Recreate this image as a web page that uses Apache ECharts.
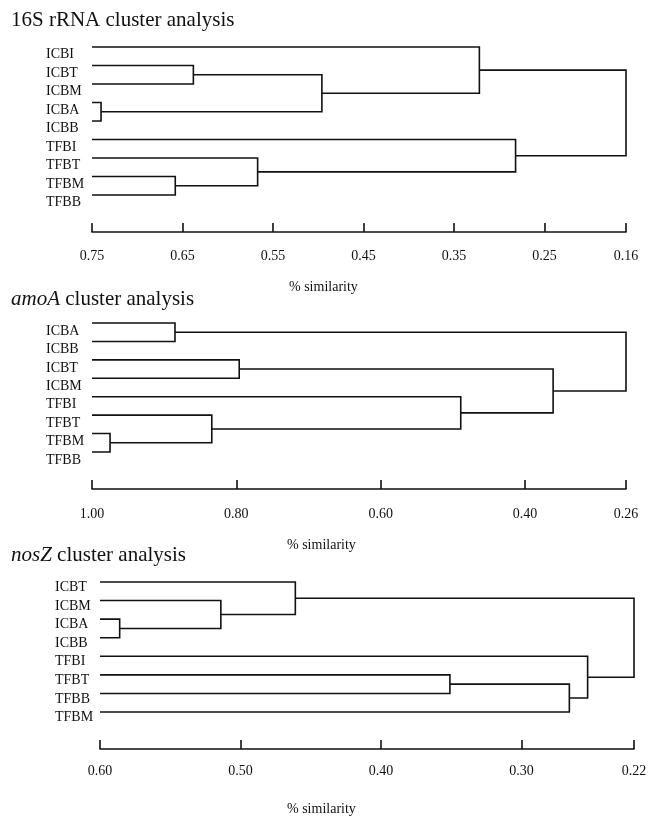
<!DOCTYPE html>
<html>
<head>
<meta charset="utf-8">
<script src="https://cdn.jsdelivr.net/npm/echarts@6/dist/echarts.min.js"></script>
<style>
    html, body { margin: 0; padding: 0; background: #fff; }
    #chart { width: 655px; height: 817px; }
</style>
</head>
<body>
<div id="chart"></div>
<script>
// 16S rRNA
var leaves16S = ['ICBI', 'ICBT', 'ICBM', 'ICBA', 'ICBB', 'TFBI', 'TFBT', 'TFBM', 'TFBB']
// [child a, child b, similarity] - children >= leaves.length are earlier merges
var merges16S = [
    [3, 4, 0.740],
    [1, 2, 0.638],
    [10, 9, 0.496],
    [0, 11, 0.322],
    [7, 8, 0.658],
    [6, 13, 0.567],
    [5, 14, 0.282],
    [12, 15, 0.16]
]
var ticks16S = [0.75, 0.65, 0.55, 0.45, 0.35, 0.25, 0.16]

// amoA
var leavesAmoA = ['ICBA', 'ICBB', 'ICBT', 'ICBM', 'TFBI', 'TFBT', 'TFBM', 'TFBB']
var mergesAmoA = [
    [0, 1, 0.885],
    [2, 3, 0.796],
    [6, 7, 0.975],
    [5, 10, 0.834],
    [4, 11, 0.489],
    [9, 12, 0.361],
    [8, 13, 0.26]
]
var ticksAmoA = [1.00, 0.80, 0.60, 0.40, 0.26]

// nosZ
var leavesNosZ = ['ICBT', 'ICBM', 'ICBA', 'ICBB', 'TFBI', 'TFBT', 'TFBB', 'TFBM']
var mergesNosZ = [
    [2, 3, 0.586],
    [1, 8, 0.514],
    [0, 9, 0.461],
    [5, 6, 0.351],
    [11, 7, 0.266],
    [4, 12, 0.253],
    [10, 13, 0.22]
]
var ticksNosZ = [0.60, 0.50, 0.40, 0.30, 0.22]

var serif = '"Liberation Serif", "DejaVu Serif", serif'
var ink = '#111'

// 每个合并点 -> [hA, yA, hB, yB, h]
var buildLinks = function(leaves, merges, start) {
    var nodes = leaves.map(function(n, i) { return {h: start, y: i} })
    var links = []
    for (let m of merges) {
        var a = nodes[m[0]], b = nodes[m[1]]
        links.push([a.h, a.y, b.h, b.y, m[2]])
        nodes.push({h: m[2], y: (a.y + b.y) / 2})
    }
    return links
}

var panels = [
    {leaves: leaves16S, merges: merges16S, ticks: ticks16S,
     grid: {left: 92, right: 29, top: 47, height: 148}, offset: 37, margin: 17, labelMargin: 46, labelLH: 15},
    {leaves: leavesAmoA, merges: mergesAmoA, ticks: ticksAmoA,
     grid: {left: 92, right: 29, top: 323, height: 129}, offset: 37, margin: 18, labelMargin: 46, labelLH: 16},
    {leaves: leavesNosZ, merges: mergesNosZ, ticks: ticksNosZ,
     grid: {left: 100, right: 21, top: 582, height: 130}, offset: 37, margin: 15, labelMargin: 45, labelLH: 11}
]

var renderLink = function(params, api) {
    var p = [
        api.coord([api.value(0), api.value(1)]),
        api.coord([api.value(4), api.value(1)]),
        api.coord([api.value(4), api.value(3)]),
        api.coord([api.value(2), api.value(3)])
    ]
    return {
        type: 'polyline',
        shape: {points: p},
        style: {stroke: ink, lineWidth: 1.6, fill: null}
    }
}

var grids = [], xAxes = [], yAxes = [], series = []
panels.forEach(function(p, i) {
    var hi = p.ticks[0], lo = p.ticks[p.ticks.length - 1]
    grids.push(p.grid)
    xAxes.push({
        type: 'value', gridIndex: i, min: lo, max: hi, inverse: true,
        position: 'bottom', offset: p.offset,
        splitLine: {show: false},
        axisLine: {show: true, onZero: false, lineStyle: {color: ink, width: 1.6}},
        axisTick: {show: true, inside: true, length: 9, customValues: p.ticks,
                   lineStyle: {color: ink, width: 1.6}},
        axisLabel: {customValues: p.ticks, margin: p.margin, color: ink,
                    fontFamily: serif, fontSize: 14,
                    formatter: function(v) { return v.toFixed(2) }}
    })
    yAxes.push({
        type: 'value', gridIndex: i, min: 0, max: p.leaves.length - 1, interval: 1, inverse: true,
        splitLine: {show: false}, axisLine: {show: false}, axisTick: {show: false},
        axisLabel: {align: 'left', verticalAlign: 'top', lineHeight: p.labelLH,
                    margin: p.labelMargin, color: ink, fontFamily: serif, fontSize: 14,
                    formatter: function(v) { return p.leaves[v] || '' }}
    })
    series.push({
        type: 'custom', xAxisIndex: i, yAxisIndex: i, clip: false,
        renderItem: renderLink,
        encode: {x: [0, 2, 4], y: [1, 3]},
        data: buildLinks(p.leaves, p.merges, hi)
    })
})

var titleStyle = {fontFamily: serif, fontSize: 21, fontWeight: 'normal', color: ink,
                  rich: {i: {fontFamily: serif, fontSize: 21, fontStyle: 'italic', color: ink}}}
var nameStyle = {fontFamily: serif, fontSize: 14, fontWeight: 'normal', color: ink}

var option = {
    backgroundColor: '#fff',
    animation: false,
    title: [
        {text: '16S rRNA cluster analysis', left: 11, top: 10, padding: 0, textStyle: titleStyle},
        {text: '{i|amoA} cluster analysis', left: 11, top: 289, padding: 0, textStyle: titleStyle},
        {text: '{i|nosZ} cluster analysis', left: 11, top: 545, padding: 0, textStyle: titleStyle},
        {text: '% similarity', left: 289, top: 280, padding: 0, textStyle: nameStyle},
        {text: '% similarity', left: 287, top: 538, padding: 0, textStyle: nameStyle},
        {text: '% similarity', left: 287, top: 802, padding: 0, textStyle: nameStyle}
    ],
    grid: grids,
    xAxis: xAxes,
    yAxis: yAxes,
    series: series
}
echarts.init(document.getElementById('chart')).setOption(option)
</script>
</body>
</html>
